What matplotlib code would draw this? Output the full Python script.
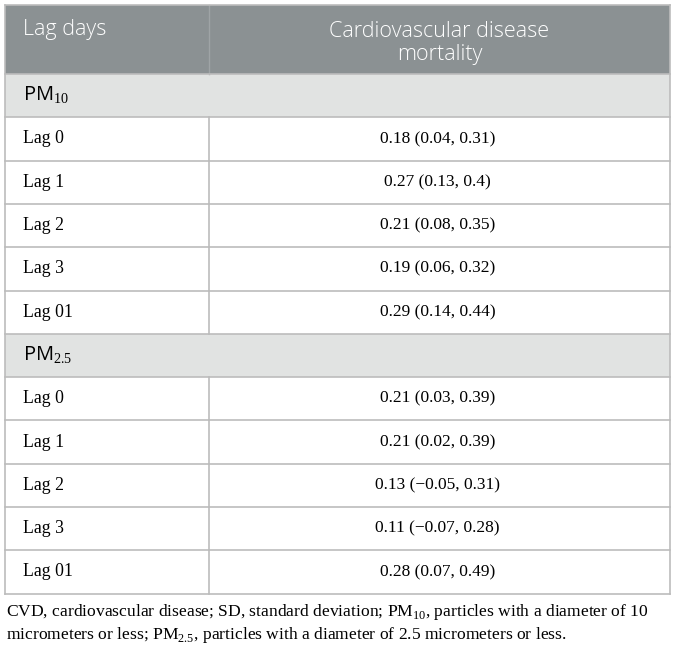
import matplotlib
matplotlib.use('Agg')
import matplotlib.pyplot as plt
from matplotlib.patches import Rectangle

plt.rcParams['mathtext.fontset'] = 'custom'
plt.rcParams['mathtext.rm'] = 'Liberation Serif'

# table contents
header_left = 'Lag days'
header_right = 'Cardiovascular disease\nmortality'
groups = ['PM$_{\\mathrm{10}}$', 'PM$_{\\mathrm{2.5}}$']
lags = ['Lag 0', 'Lag 1', 'Lag 2', 'Lag 3', 'Lag 01']
pm10_est = [0.18, 0.27, 0.21, 0.19, 0.29]
pm10_low = [0.04, 0.13, 0.08, 0.06, 0.14]
pm10_high = [0.31, 0.4, 0.35, 0.32, 0.44]
pm25_est = [0.21, 0.21, 0.13, 0.11, 0.28]
pm25_low = [0.03, 0.02, -0.05, -0.07, 0.07]
pm25_high = [0.39, 0.39, 0.31, 0.28, 0.49]
footnote = ['CVD, cardiovascular disease; SD, standard deviation; PM$_{\\mathrm{10}}$, particles with a diameter of 10',
            'micrometers or less; PM$_{\\mathrm{2.5}}$, particles with a diameter of 2.5 micrometers or less.']

def fmt(v):
    return ('%g' % v).replace('-', '\u2212')

def cell_text(e, lo, hi):
    return '%s (%s, %s)' % (fmt(e), fmt(lo), fmt(hi))

W, H = 675, 649
fig = plt.figure(figsize=(W / 100, H / 100), dpi=100)
ax = fig.add_axes([0, 0, 1, 1])
ax.set_xlim(0, W)
ax.set_ylim(H, 0)
ax.axis('off')

left, right, mid = 5, 670, 209
top, head_h, row_h = 5, 69, 43.3
grid = '#bcbcbc'
head_bg = '#8b9193'
group_bg = '#e1e3e2'
sans = 'Open Sans'
serif = 'Liberation Serif'
pad = 18

# header
ax.add_patch(Rectangle((left, top), right - left, head_h, color=head_bg, lw=0))
ax.plot([mid, mid], [top, top + head_h], color='#9fa4a6', lw=1)
ax.text(left + pad, top + 25, header_left, color='white', fontsize=15.5, family=sans,
        weight='light', va='center', ha='left')
ax.text((mid + right) / 2, top + 38, header_right, color='white', fontsize=15.5, family=sans,
        weight='light', va='center', ha='center', linespacing=1.16)

y = top + head_h
sections = [(groups[0], pm10_est, pm10_low, pm10_high), (groups[1], pm25_est, pm25_low, pm25_high)]
for g, est, low, high in sections:
    ax.add_patch(Rectangle((left, y), right - left, row_h, color=group_bg, lw=0))
    ax.text(left + pad, y + row_h / 2, g, fontsize=14.5, family=sans, va='center', ha='left', color='black')
    ax.plot([left, right], [y, y], color=grid, lw=1.2)
    y += row_h
    for i in range(len(lags)):
        ax.plot([left, right], [y, y], color=grid, lw=1.2)
        ax.plot([mid, mid], [y, y + row_h], color=grid, lw=1.2)
        ax.text(left + pad, y + row_h / 2, lags[i], fontsize=12.8, family=serif, va='center', ha='left')
        ax.text((mid + right) / 2 - 2, y + row_h / 2, cell_text(est[i], low[i], high[i]),
                fontsize=12.5, family=serif, va='center', ha='center')
        y += row_h

# outer border
ax.plot([left, right], [y, y], color=grid, lw=1.2)
ax.plot([left, left], [top, y], color=grid, lw=1.2)
ax.plot([right, right], [top, y], color=grid, lw=1.2)
ax.plot([left, right], [top, top], color=grid, lw=1.2)

ax.text(left + 1, y + 18, footnote[0], fontsize=12.6, family=serif, va='center', ha='left')
ax.text(left + 1, y + 41, footnote[1], fontsize=12.6, family=serif, va='center', ha='left')

fig.savefig('out.png', dpi=100)
